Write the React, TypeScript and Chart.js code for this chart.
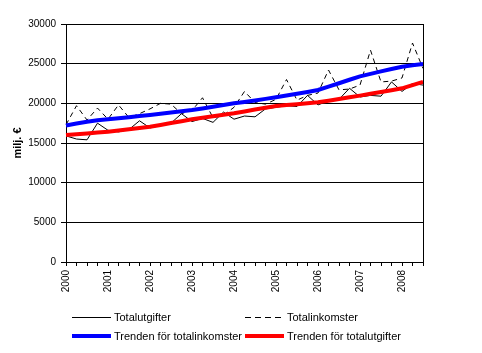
import React, { useEffect, useRef } from "react";
import { Chart, registerables } from "chart.js";

Chart.register(...registerables);

const categories = [
  "2000 Q1", "2000 Q2", "2000 Q3", "2000 Q4",
  "2001 Q1", "2001 Q2", "2001 Q3", "2001 Q4",
  "2002 Q1", "2002 Q2", "2002 Q3", "2002 Q4",
  "2003 Q1", "2003 Q2", "2003 Q3", "2003 Q4",
  "2004 Q1", "2004 Q2", "2004 Q3", "2004 Q4",
  "2005 Q1", "2005 Q2", "2005 Q3", "2005 Q4",
  "2006 Q1", "2006 Q2", "2006 Q3", "2006 Q4",
  "2007 Q1", "2007 Q2", "2007 Q3", "2007 Q4",
  "2008 Q1", "2008 Q2", "2008 Q3",
];

const yearLabels = ["2000", "2001", "2002", "2003", "2004", "2005", "2006", "2007", "2008"];

const totalutgifter = [
  15900, 15500, 15400, 17500,
  16600, 16400, 16700, 17800,
  16900, 17200, 17500, 18700,
  17700, 18100, 17600, 18900,
  18000, 18400, 18300, 19300,
  19500, 19700, 19600, 21000,
  19800, 20300, 20500, 21900,
  20800, 21000, 20900, 22700,
  21500, 22500, 22300,
];

const totalinkomster = [
  17300, 19700, 17900, 19400,
  18000, 19800, 18200, 18700,
  19300, 20000, 19900, 18700,
  19100, 20700, 18200, 18500,
  19500, 21500, 20100, 19900,
  20500, 23000, 20400, 21000,
  21300, 24200, 21700, 21800,
  22300, 26700, 22700, 22800,
  23200, 27600, 24400,
];

const trendInkomster = [
  17200, 17450, 17680, 17860,
  18000, 18120, 18250, 18390,
  18530, 18680, 18840, 19000,
  19160, 19360, 19570, 19790,
  20000, 20180, 20370, 20560,
  20760, 20980, 21200, 21440,
  21680, 22100, 22530, 22970,
  23400, 23720, 24030, 24330,
  24620, 24800, 24950,
];

const trendUtgifter = [
  16000, 16100, 16200, 16310,
  16430, 16580, 16730, 16900,
  17060, 17280, 17510, 17750,
  17990, 18170, 18360, 18550,
  18740, 18980, 19220, 19450,
  19660, 19780, 19890, 20010,
  20130, 20330, 20540, 20760,
  20970, 21200, 21430, 21660,
  21890, 22300, 22700,
];

const FONT = "'Liberation Sans', Arial, sans-serif";

const borderPlugin = {
  id: "rightBorder",
  afterDraw(chart: any) {
    const { ctx, chartArea } = chart;
    ctx.save();
    ctx.strokeStyle = "#000";
    ctx.lineWidth = 1;
    ctx.beginPath();
    const x = Math.round(chartArea.right) + 0.5;
    ctx.moveTo(x, chartArea.top);
    ctx.lineTo(x, chartArea.bottom);
    ctx.stroke();
    ctx.restore();
  },
};

function LegendItem(props: { left: number; top: number; label: string; color: string; width: number; dash?: string }) {
  const { left, top, label, color, width, dash } = props;
  const y = width % 2 === 1 ? 4.5 : 4;
  return (
    <div style={{ position: "absolute", left, top, display: "flex", alignItems: "center", height: 14, whiteSpace: "nowrap" }}>
      <svg width={40} height={8} style={{ display: "block" }} shapeRendering="crispEdges">
        <line x1={0} y1={y} x2={39} y2={y} stroke={color} strokeWidth={width} strokeDasharray={dash} />
      </svg>
      <span style={{ fontFamily: FONT, fontSize: 11, color: "#000", marginLeft: 2, lineHeight: "14px" }}>{label}</span>
    </div>
  );
}

export default function App() {
  const ref = useRef<HTMLCanvasElement | null>(null);

  useEffect(() => {
    if (!ref.current) return;
    const chart = new Chart(ref.current, {
      type: "line",
      data: {
        labels: categories,
        datasets: [
          {
            label: "Totalutgifter",
            data: totalutgifter,
            borderColor: "#000",
            borderWidth: 1,
            pointRadius: 0,
            tension: 0,
            order: 3,
          },
          {
            label: "Totalinkomster",
            data: totalinkomster,
            borderColor: "#000",
            borderWidth: 1,
            borderDash: [5, 4],
            pointRadius: 0,
            tension: 0,
            order: 2,
          },
          {
            label: "Trenden för totalinkomster",
            data: trendInkomster,
            borderColor: "#0000FF",
            borderWidth: 4,
            pointRadius: 0,
            tension: 0,
            order: 1,
          },
          {
            label: "Trenden för totalutgifter",
            data: trendUtgifter,
            borderColor: "#FF0000",
            borderWidth: 4,
            pointRadius: 0,
            tension: 0,
            order: 0,
          },
        ],
      },
      options: {
        animation: false,
        responsive: false,
        layout: { padding: { left: 6, right: 59, top: 24, bottom: 61 } },
        plugins: {
          legend: { display: false },
          tooltip: { enabled: false },
        },
        scales: {
          x: {
            type: "category",
            offset: false,
            grid: { display: true, drawOnChartArea: false, drawTicks: true, tickLength: 4, color: "#000" },
            border: { display: true, color: "#000", width: 1 },
            ticks: {
              autoSkip: false,
              minRotation: 90,
              maxRotation: 90,
              padding: 4,
              color: "#000",
              font: { family: FONT, size: 10 },
              callback: (_v: any, i: number) => (i % 4 === 0 ? yearLabels[i / 4] : ""),
            },
            afterFit: (s: any) => {
              s.height = 30;
            },
          },
          y: {
            min: 0,
            max: 30000,
            grid: { color: "#000", lineWidth: 1, drawTicks: true, tickLength: 5 },
            border: { display: true, color: "#000", width: 1 },
            ticks: {
              stepSize: 5000,
              padding: 5,
              color: "#000",
              font: { family: FONT, size: 10 },
              callback: (v: any) => String(v),
            },
            title: {
              display: true,
              text: "milj. €",
              color: "#000",
              font: { family: FONT, size: 11, weight: "bold" },
              padding: { top: 5, bottom: 4 },
            },
            afterFit: (s: any) => {
              s.width = 60;
            },
          },
        },
      },
      plugins: [borderPlugin],
    });
    return () => chart.destroy();
  }, []);

  return (
    <div style={{ position: "fixed", left: 0, top: 0, width: 482, height: 353, background: "#fff", overflow: "hidden" }}>
      <canvas ref={ref} width={482} height={353} style={{ display: "block", width: 482, height: 353 }} />
      <LegendItem left={72} top={310} label="Totalutgifter" color="#000" width={1} />
      <LegendItem left={245} top={310} label="Totalinkomster" color="#000" width={1} dash="6 4" />
      <LegendItem left={72} top={329} label="Trenden för totalinkomster" color="#0000FF" width={4} />
      <LegendItem left={245} top={329} label="Trenden för totalutgifter" color="#FF0000" width={4} />
    </div>
  );
}
